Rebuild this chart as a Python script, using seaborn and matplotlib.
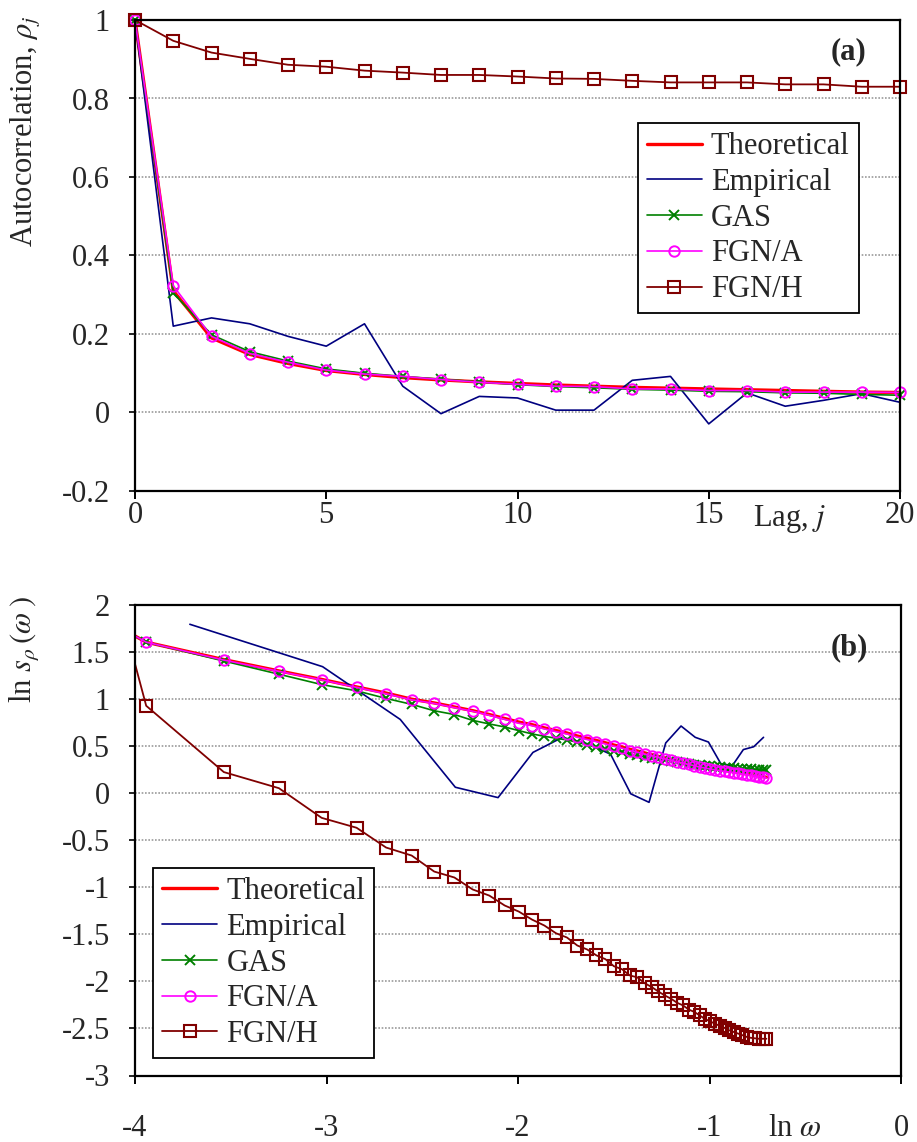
import numpy as np
import pandas as pd
import matplotlib
matplotlib.use("Agg")
import matplotlib.pyplot as plt
import seaborn as sns
from matplotlib.ticker import FixedLocator, FixedFormatter

# ---------------- data: panel (a) autocorrelation ----------------
lags = list(range(21))
acf_theoretical = [1.0, 0.31, 0.19, 0.148, 0.125, 0.107, 0.097, 0.089, 0.083, 0.078, 0.074,
                   0.070, 0.067, 0.064, 0.062, 0.060, 0.058, 0.056, 0.054, 0.052, 0.051]
acf_empirical = [1.0, 0.220, 0.241, 0.226, 0.194, 0.169, 0.226, 0.067, -0.003, 0.041, 0.037,
                 0.006, 0.006, 0.082, 0.092, -0.029, 0.050, 0.016, 0.031, 0.048, 0.026]
acf_gas = [1.0, 0.305, 0.198, 0.155, 0.131, 0.111, 0.100, 0.092, 0.085, 0.078, 0.071,
           0.066, 0.063, 0.059, 0.057, 0.054, 0.053, 0.050, 0.049, 0.046, 0.044]
acf_fgn_a = [1.0, 0.323, 0.194, 0.150, 0.128, 0.108, 0.098, 0.092, 0.084, 0.077, 0.072,
             0.067, 0.066, 0.060, 0.060, 0.056, 0.056, 0.052, 0.052, 0.052, 0.051]
acf_fgn_h = [1.0, 0.947, 0.917, 0.901, 0.886, 0.881, 0.871, 0.866, 0.860, 0.860, 0.856,
             0.851, 0.850, 0.845, 0.841, 0.841, 0.841, 0.836, 0.836, 0.830, 0.830]

# ---------------- data: panel (b) log spectrum ----------------
k_model = list(range(1, 52))          # frequency index of model spectra
n_model = 103                         # omega = k / n_model
m_emp = list(range(1, 21))            # frequency index of empirical spectrum
n_emp = 41                            # omega = m / n_emp

spec_theoretical = [2.38, 1.60, 1.415, 1.295, 1.205, 1.125, 1.06, 0.995, 0.955, 0.912,
                    0.873, 0.832, 0.79, 0.752, 0.724, 0.69, 0.662, 0.636, 0.604, 0.58,
                    0.556, 0.532, 0.508, 0.487, 0.462, 0.445, 0.425, 0.406, 0.388, 0.371,
                    0.355, 0.34, 0.326, 0.312, 0.298, 0.285, 0.275, 0.265, 0.256, 0.247,
                    0.239, 0.232, 0.225, 0.217, 0.209, 0.201, 0.194, 0.187, 0.180, 0.173,
                    0.166]
spec_fgn_a = [2.38, 1.60, 1.41, 1.29, 1.20, 1.12, 1.052, 0.988, 0.95, 0.905,
              0.867, 0.824, 0.781, 0.739, 0.714, 0.679, 0.650, 0.626, 0.591, 0.566,
              0.544, 0.520, 0.496, 0.475, 0.449, 0.432, 0.413, 0.395, 0.378, 0.361,
              0.345, 0.330, 0.316, 0.302, 0.288, 0.274, 0.264, 0.254, 0.245, 0.236,
              0.228, 0.222, 0.216, 0.208, 0.200, 0.192, 0.185, 0.178, 0.171, 0.164,
              0.157]
spec_gas = [2.38, 1.60, 1.40, 1.26, 1.15, 1.084, 1.003, 0.94, 0.872, 0.832,
            0.77, 0.732, 0.70, 0.661, 0.626, 0.601, 0.58, 0.562, 0.538, 0.51,
            0.485, 0.467, 0.449, 0.432, 0.41, 0.398, 0.384, 0.37, 0.358, 0.35,
            0.34, 0.33, 0.318, 0.308, 0.30, 0.292, 0.286, 0.281, 0.276, 0.272,
            0.268, 0.264, 0.26, 0.257, 0.254, 0.251, 0.249, 0.247, 0.245, 0.243,
            0.241]
spec_fgn_h = [6.2, 0.925, 0.221, 0.05, -0.265, -0.37, -0.58, -0.665, -0.835, -0.898,
              -1.025, -1.09, -1.195, -1.26, -1.345, -1.408, -1.49, -1.535, -1.62, -1.662,
              -1.725, -1.765, -1.84, -1.872, -1.938, -1.958, -2.02, -2.06, -2.108, -2.15,
              -2.185, -2.228, -2.256, -2.30, -2.325, -2.362, -2.40, -2.425, -2.45, -2.474,
              -2.495, -2.52, -2.538, -2.555, -2.572, -2.59, -2.60, -2.605, -2.61, -2.61,
              -2.61]
spec_empirical = [1.79, 1.34, 0.78, 0.06, -0.05, 0.43, 0.59, 0.52, 0.41, -0.01,
                  -0.10, 0.53, 0.71, 0.59, 0.54, 0.31, 0.29, 0.46, 0.49, 0.59]

yticks_a = [-0.2, 0, 0.2, 0.4, 0.6, 0.8, 1]
ytick_labels_a = ["-0.2", "0", "0.2", "0.4", "0.6", "0.8", "1"]
xticks_a = [0, 5, 10, 15, 20]
xtick_labels_a = ["0", "5", "10", "15", "20"]
yticks_b = [-3, -2.5, -2, -1.5, -1, -0.5, 0, 0.5, 1, 1.5, 2]
ytick_labels_b = ["-3", "-2.5", "-2", "-1.5", "-1", "-0.5", "0", "0.5", "1", "1.5", "2"]
xticks_b = [-4, -3, -2, -1, 0]
xtick_labels_b = ["-4", "-3", "-2", "-1", "0"]

series_names = ["Theoretical", "Empirical", "GAS", "FGN/A", "FGN/H"]

# ---------------- style ----------------
sns.set_theme(style="white")
plt.rcParams["font.family"] = ["Liberation Serif", "DejaVu Serif"]
plt.rcParams["mathtext.fontset"] = "stix"
plt.rcParams["axes.unicode_minus"] = False

FS = 22
RED, NAVY, GREEN, MAGENTA, MAROON = "#FF0000", "#000080", "#008000", "#FF00FF", "#800000"

styles = {
    "Theoretical": dict(color=RED, linewidth=2.4, marker=None),
    "Empirical": dict(color=NAVY, linewidth=1.2, marker=None),
    "GAS": dict(color=GREEN, linewidth=1.2, marker="x", markersize=6.5,
                markeredgecolor=GREEN, markeredgewidth=1.4),
    "FGN/A": dict(color=MAGENTA, linewidth=1.2, marker="o", markersize=7.5,
                  markerfacecolor="none", markeredgecolor=MAGENTA, markeredgewidth=1.4),
    "FGN/H": dict(color=MAROON, linewidth=1.3, marker="s", markersize=8.5,
                  markerfacecolor="none", markeredgecolor=MAROON, markeredgewidth=1.5),
}

fig = plt.figure(figsize=(9.17, 11.42), dpi=100)
W, H = 917.0, 1142.0
ax_a = fig.add_axes([135 / W, 1 - 491 / H, 765 / W, 471 / H])
ax_b = fig.add_axes([135 / W, 1 - 1075.5 / H, 766 / W, 471 / H])


def style_axes(ax, xticks, xlabels, yticks, ylabels, xpad):
    for s in ax.spines.values():
        s.set_color("black")
        s.set_linewidth(1.6)
        s.set_visible(True)
    ax.xaxis.set_major_locator(FixedLocator(xticks))
    ax.xaxis.set_major_formatter(FixedFormatter(xlabels))
    ax.yaxis.set_major_locator(FixedLocator(yticks))
    ax.yaxis.set_major_formatter(FixedFormatter(ylabels))
    ax.tick_params(axis="x", direction="out", length=6, width=1.4, color="black",
                   labelsize=FS, pad=xpad, bottom=True)
    ax.tick_params(axis="y", direction="out", length=4, width=1.2, color="black",
                   labelsize=FS, pad=14, left=True)
    ax.yaxis.grid(True, color="#9a9a9a", linestyle=(0, (1, 1)), linewidth=1.2)
    ax.xaxis.grid(False)
    ax.set_axisbelow(True)
    ax.set_xlabel("")
    ax.set_ylabel("")


LEG_KW = dict(loc="upper left", borderaxespad=0, fontsize=FS, frameon=True,
              fancybox=False, framealpha=1, edgecolor="black", handlelength=1.8,
              handletextpad=0.3, labelspacing=0.22, borderpad=0.3, numpoints=1)

# ---------------- panel (a) ----------------
acf_data = {"Theoretical": acf_theoretical, "Empirical": acf_empirical, "GAS": acf_gas,
            "FGN/A": acf_fgn_a, "FGN/H": acf_fgn_h}
for name in series_names:
    sns.lineplot(x=lags, y=acf_data[name], ax=ax_a, label=name, clip_on=False,
                 sort=False, **styles[name])
ax_a.set_xlim(0, 20)
ax_a.set_ylim(-0.2, 1)
style_axes(ax_a, xticks_a, xtick_labels_a, yticks_a, ytick_labels_a, xpad=1)
ax_a.set_ylabel(r"Autocorrelation, $\rho_j$", fontsize=FS, va="center")
ax_a.yaxis.set_label_coords(-0.143, 0.765)
ax_a.text(0.933, 0.932, "(a)", transform=ax_a.transAxes, fontsize=FS,
          fontweight="bold", ha="center", va="center")
leg_a = ax_a.legend(bbox_to_anchor=(0.657, 0.781), **LEG_KW)
leg_a.get_frame().set_linewidth(1.3)
fig.text(790 / W, 1 - 519 / H, r"Lag, $j$", fontsize=FS, ha="center", va="center")

# ---------------- panel (b) ----------------
ln_omega_model = np.log(np.array(k_model) / n_model)
ln_omega_emp = np.log(np.array(m_emp) / n_emp)
spec_data = {"Theoretical": (ln_omega_model, spec_theoretical),
             "Empirical": (ln_omega_emp, spec_empirical),
             "GAS": (ln_omega_model, spec_gas),
             "FGN/A": (ln_omega_model, spec_fgn_a),
             "FGN/H": (ln_omega_model, spec_fgn_h)}
for name in series_names:
    xs, ys = spec_data[name]
    df = pd.DataFrame({"ln_omega": xs, "ln_s": ys})
    sns.lineplot(data=df, x="ln_omega", y="ln_s", ax=ax_b, label=name,
                 sort=False, **styles[name])
ax_b.set_xlim(-4, 0)
ax_b.set_ylim(-3, 2)
style_axes(ax_b, xticks_b, xtick_labels_b, yticks_b, ytick_labels_b, xpad=22)
ax_b.set_ylabel(r"ln $s_{\rho}\,(\omega\;)$", fontsize=FS, va="center")
ax_b.yaxis.set_label_coords(-0.143, 0.905)
ax_b.text(0.932, 0.908, "(b)", transform=ax_b.transAxes, fontsize=FS,
          fontweight="bold", ha="center", va="center")
leg_b = ax_b.legend(bbox_to_anchor=(0.0235, 0.4406), **LEG_KW)
leg_b.get_frame().set_linewidth(1.3)
fig.text(795 / W, 1 - 1128 / H, r"ln $\omega$", fontsize=FS, ha="center", va="center")

fig.savefig("out.png", dpi=100)
